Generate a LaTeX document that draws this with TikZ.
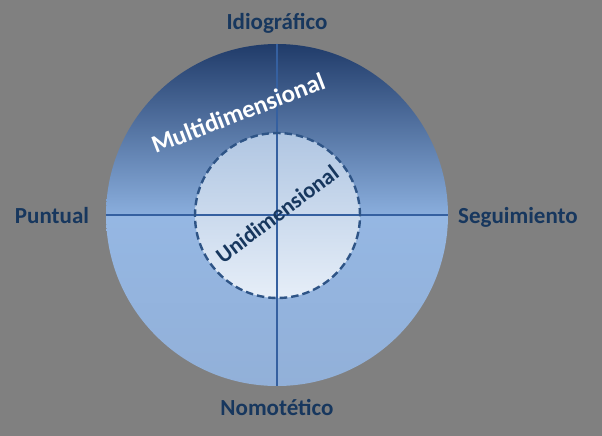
\documentclass[tikz,border=0pt]{standalone}
\usepackage{fontspec}
\setmainfont{Carlito}
\definecolor{bg}{HTML}{808080}
\definecolor{outtop}{HTML}{1E3967}
\definecolor{outmid}{HTML}{8AAEDD}
\definecolor{lowtop}{HTML}{95B7E3}
\definecolor{lowbot}{HTML}{92B0D8}
\definecolor{intop}{HTML}{B0C6E2}
\definecolor{inbot}{HTML}{E6EEF8}
\definecolor{axis}{HTML}{3560A0}
\definecolor{dashc}{HTML}{2E5486}
\definecolor{labc}{HTML}{17375E}
\tikzset{
  lab/.style={text=labc, font=\bfseries\fontsize{23}{23}\selectfont, anchor=base, inner sep=0pt},
  axisline/.style={draw=axis, line width=1.8pt},
}
\begin{document}
\begin{tikzpicture}[x=1pt,y=-1pt]
\useasboundingbox (0,0) rectangle (602,436);
\fill[bg] (0,0) rectangle (602,436);
\node[circle, minimum size=342pt, inner sep=0pt] (outer) at (277,215) {};
\begin{scope}
\clip (277,215) circle[radius=171pt];
\shade[top color=outtop, bottom color=outmid] (100,40) rectangle (454,215);
\shade[top color=lowtop, bottom color=lowbot] (100,215) rectangle (454,390);
\end{scope}
\node[circle, minimum size=165pt, inner sep=0pt, top color=intop, bottom color=inbot] (inner) at (277.5,215.5) {};
\draw[axisline] (outer.west) -- (outer.east);
\draw[axisline] (outer.north) -- (outer.south);
\draw[dashc, line width=2.4pt, dash pattern=on 7.5pt off 4pt] (inner.center) circle[radius=82.5pt];
\node[lab] (idio) at (277,30) {Idiográfico};
\node[lab] (punt) at (52,223) {Puntual};
\node[lab] (segu) at (518,223) {Seguimiento};
\node[lab] (nomo) at (277,415) {Nomotético};
\node[text=white, font=\bfseries\fontsize{25}{25}\selectfont, rotate=21, inner sep=0pt] (multi) at (238,113) {Multidimensional};
\node[text=labc, font=\bfseries\fontsize{22.5}{22.5}\selectfont, rotate=37, inner sep=0pt] (uni) at (277,214) {Unidimensional};
\end{tikzpicture}
\end{document}
